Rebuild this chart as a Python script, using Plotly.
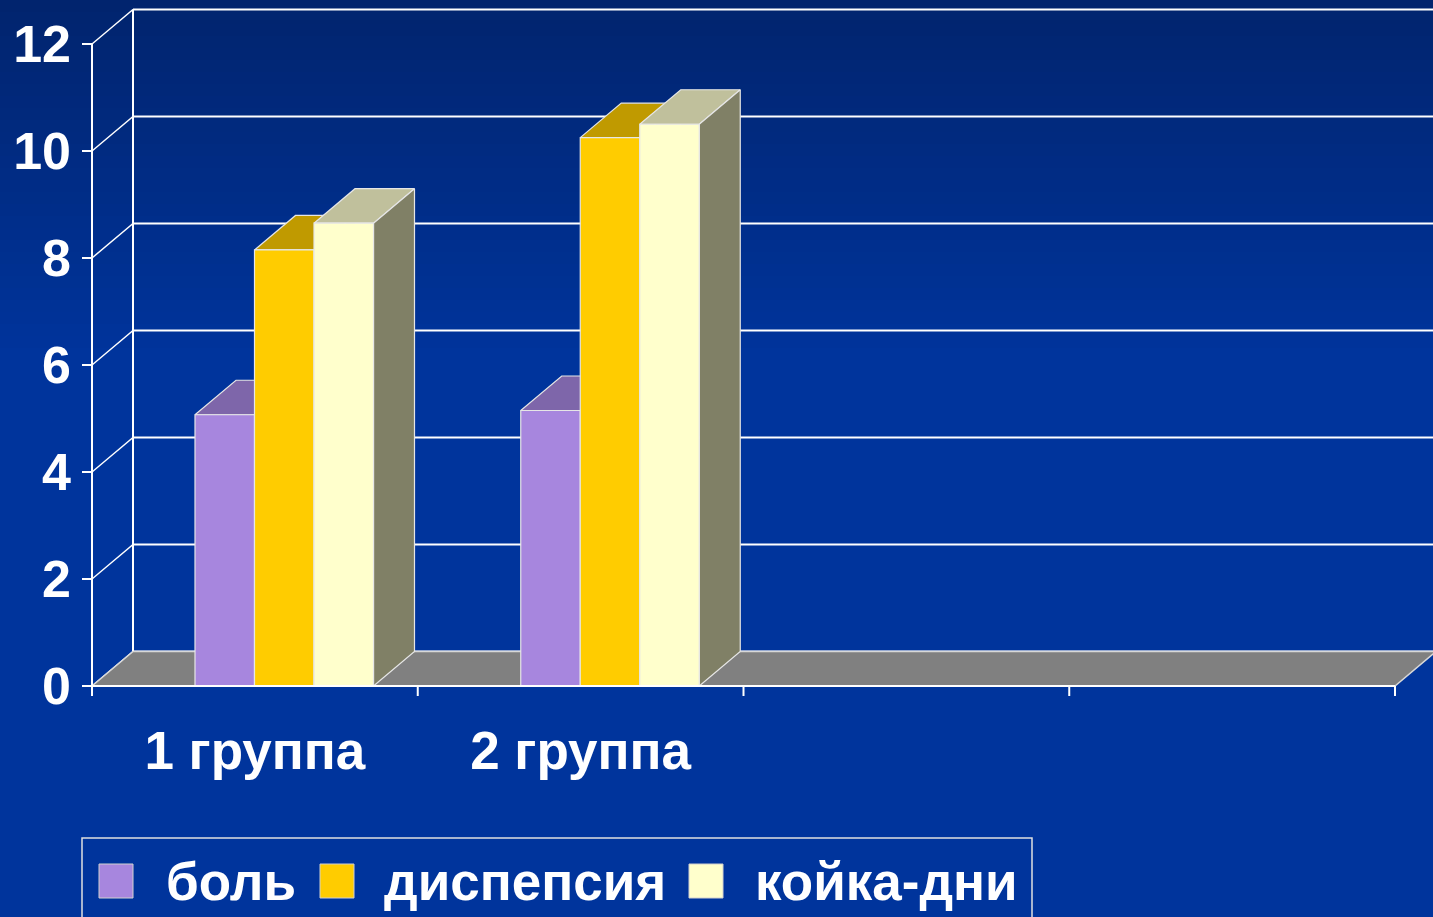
import plotly.graph_objects as go

# ---------------- data ----------------
categories = ["1 группа", "2 группа", "", ""]
series_names = ["боль", "диспепсия", "койка-дни"]
bol = [5.07, 5.15]
dispepsia = [8.15, 10.25]
koika_dni = [8.65, 10.5]
y_ticks = [0, 2, 4, 6, 8, 10, 12]

# ---------------- styles ----------------
front_colors = ["#a786de", "#ffcc00", "#ffffcc"]
top_colors = ["#7e66aa", "#c09a00", "#c0c09c"]
side_colors = ["#6c5894", "#a08000", "#808066"]
FONT = "Liberation Sans, Arial, sans-serif"

W, H = 1433, 917
X0PX, CATPX = 92, 325.75
Y0PX, UNITPX = 686, 53.5
DX = 41 / CATPX
DY = 34.5 / UNITPX
TX = 10 / CATPX
TY = 10 / UNITPX
OFF = 103 / CATPX
BW = 59.5 / CATPX

left_px, right_px = 78, 1433
bot_px, top_px = 704, 3
xr = [(left_px - X0PX) / CATPX, (right_px - X0PX) / CATPX]
yr = [(Y0PX - bot_px) / UNITPX, (Y0PX - top_px) / UNITPX]
ncat = len(categories)
ymax = max(y_ticks)


def lines(xs, ys, color="white", width=2):
    return go.Scatter(x=xs, y=ys, mode="lines", line=dict(color=color, width=width),
                      hoverinfo="skip", showlegend=False)


def polys(xs, ys, fill, line="#e6e6e6", width=1.2):
    return go.Scatter(x=xs, y=ys, mode="lines", fill="toself", fillcolor=fill,
                      line=dict(color=line, width=width), hoverinfo="skip", showlegend=False)


fig = go.Figure()

# background wall gridlines, left wall diagonals
gx, gy, dxs, dys = [], [], [], []
for v in y_ticks:
    gx += [DX, xr[1] + 0.2, None]
    gy += [v + DY, v + DY, None]
    dxs += [0, DX, None]
    dys += [v, v + DY, None]
fig.add_trace(lines(gx, gy))
fig.add_trace(lines(dxs, dys, width=1.5))
fig.add_trace(lines([DX, DX], [DY, ymax + DY]))

# floor
fig.add_trace(polys([0, ncat, ncat + DX, DX, 0], [0, 0, DY, DY, 0], "#808080", line="#d8d8d8", width=1.5))

# bars (pseudo 3D), drawn series by series so nearer faces cover hidden ones
all_vals = [bol, dispepsia, koika_dni]
for j, vals in enumerate(all_vals):
    tx, ty, sx, sy, fx, fy = [], [], [], [], [], []
    for i, v in enumerate(vals):
        x0 = i + OFF + j * BW
        x1 = x0 + BW
        tx += [x0, x1, x1 + DX, x0 + DX, x0, None]
        ty += [v, v, v + DY, v + DY, v, None]
        sx += [x1, x1 + DX, x1 + DX, x1, x1, None]
        sy += [0, DY, v + DY, v, 0, None]
        fx += [x0, x1, x1, x0, x0, None]
        fy += [0, 0, v, v, 0, None]
    fig.add_trace(polys(tx, ty, top_colors[j]))
    fig.add_trace(polys(sx, sy, side_colors[j]))
    tr = polys(fx, fy, front_colors[j])
    tr.name = series_names[j]
    fig.add_trace(tr)

# front axes
fig.add_trace(lines([0, ncat], [0, 0]))
fig.add_trace(lines([0, 0], [-TY, ymax]))
ytx, yty = [], []
for v in y_ticks:
    ytx += [-TX, 0, None]
    yty += [v, v, None]
fig.add_trace(lines(ytx, yty))
xtx, xty = [], []
for i in range(ncat + 1):
    xtx += [i, i, None]
    xty += [0, -TY, None]
fig.add_trace(lines(xtx, xty))

# background gradient bands
shapes = []
c0 = (0x01, 0x24, 0x6e)
c1 = (0x00, 0x34, 0x9c)
nb = 30
band_h = 360 / nb
for k in range(nb):
    t = k / (nb - 1)
    col = "rgb(%d,%d,%d)" % tuple(round(a + (b - a) * t) for a, b in zip(c0, c1))
    y0 = k * band_h
    y1 = y0 + band_h + 1
    shapes.append(dict(type="rect", xref="paper", yref="paper", layer="below",
                       x0=0, x1=1, y0=1 - y1 / H, y1=1 - y0 / H,
                       fillcolor=col, line=dict(width=0)))

# legend (manual)
def px(x):
    return x / W


def py(y):
    return 1 - y / H


shapes.append(dict(type="rect", xref="paper", yref="paper", x0=px(82), x1=px(1032),
                   y0=py(940), y1=py(838), line=dict(color="#e0e0e0", width=1.5),
                   fillcolor="rgba(0,0,0,0)"))
sq_x = [99, 320, 689]
txt_x = [164, 382, 753]
annotations = []
for j in range(3):
    shapes.append(dict(type="rect", xref="paper", yref="paper",
                       x0=px(sq_x[j]), x1=px(sq_x[j] + 34), y0=py(898), y1=py(864),
                       fillcolor=front_colors[j], line=dict(color="#d0d0d0", width=1)))
    annotations.append(dict(x=px(txt_x[j]), y=py(881), xref="paper", yref="paper",
                            xanchor="left", yanchor="middle", showarrow=False,
                            text=series_names[j],
                            font=dict(family=FONT, size=53, color="white", weight="bold")))

fig.update_layout(
    width=W, height=H,
    autosize=False,
    margin=dict(l=0, r=0, t=0, b=0, pad=0),
    paper_bgcolor="#00349c",
    plot_bgcolor="rgba(0,0,0,0)",
    showlegend=False,
    shapes=shapes,
    annotations=annotations,
    xaxis=dict(domain=[left_px / W, right_px / W], range=xr, showgrid=False, zeroline=False,
               showline=False, ticks="", tickvals=[i + 0.5 for i in range(ncat)],
               ticktext=categories, ticklabelstandoff=11, automargin=False,
               tickfont=dict(family=FONT, size=53, color="white", weight="bold"), fixedrange=True),
    yaxis=dict(domain=[(H - bot_px) / H, (H - top_px) / H], range=yr, showgrid=False,
               zeroline=False, showline=False, ticks="", tickvals=y_ticks,
               ticklabelstandoff=6, automargin=False,
               tickfont=dict(family=FONT, size=52, color="white", weight="bold"), fixedrange=True),
)

fig.write_html("out.html", config={"displayModeBar": False, "responsive": False},
               post_script="document.body.style.margin='0';document.body.style.overflow='hidden';")
